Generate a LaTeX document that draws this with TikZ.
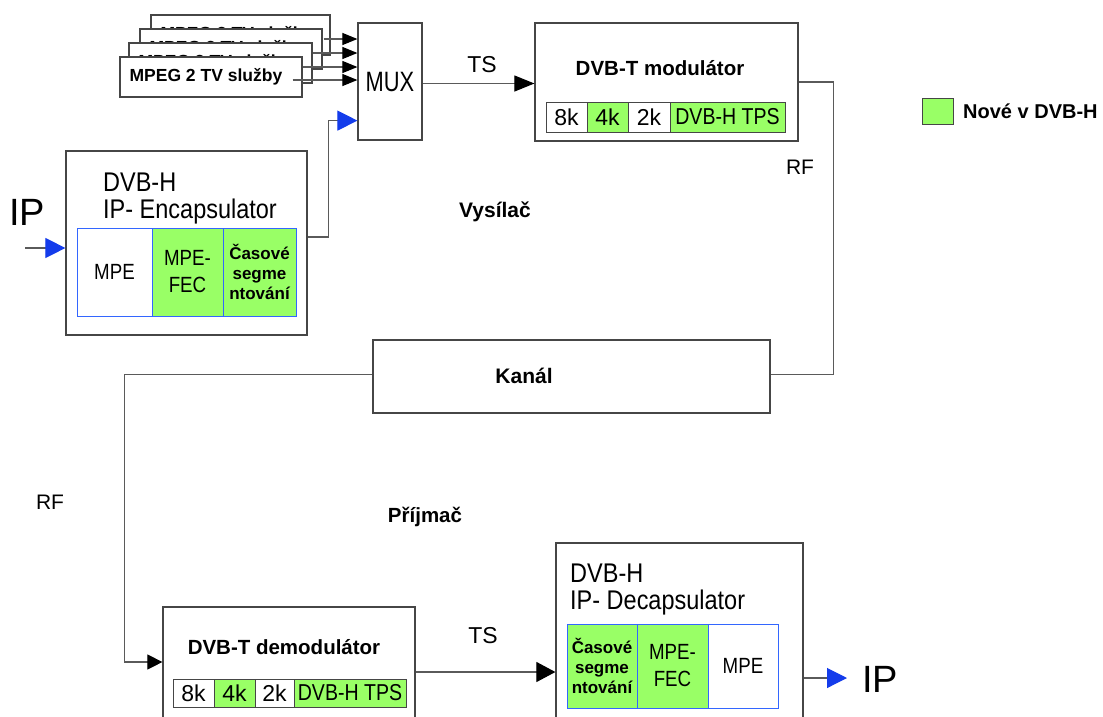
\documentclass[tikz,border=0pt]{standalone}
\usepackage{fontspec}
\setmainfont{Liberation Sans}
\usetikzlibrary{arrows.meta,calc}
\definecolor{newgreen}{RGB}{153,255,102}
\definecolor{cellblue}{RGB}{51,102,255}
\definecolor{tipblue}{RGB}{20,60,235}
\definecolor{boxgray}{RGB}{70,70,70}
\definecolor{linegray}{RGB}{90,90,90}
\newcommand\hsq[2][0.87]{\scalebox{#1}[1]{#2}}
\newcommand\fs[2]{\fontsize{#1}{#2}\selectfont}
\begin{document}
\begin{tikzpicture}[x=1pt,y=-1pt,
  box/.style={draw=boxgray,fill=white,line width=1.2pt,inner sep=0pt},
  cellb/.style={draw=cellblue,line width=1pt,inner sep=0pt,align=center},
  cellg/.style={draw=boxgray,line width=1pt,inner sep=0pt,align=center},
  conn/.style={draw=linegray,line width=1.1pt},
  blk/.style={conn,-{Triangle[length=15pt,width=12pt,color=black]}},
  blkbig/.style={conn,-{Triangle[length=19pt,width=17pt,color=black]}},
  blu/.style={conn,-{Triangle[length=20pt,width=20pt,color=tipblue]}},
  lbl/.style={inner sep=0pt},
]
\useasboundingbox (0,0) rectangle (1103,716);
\fill[white] (0,0) rectangle (1103,716);

% stacked MPEG boxes
\node[box,minimum width=179,minimum height=40] (b1) at (240.5,35) {};
\node[lbl,anchor=west,font=\fs{17.5}{20}\bfseries] (t1) at ($(b1.west)+(10,0)$) {MPEG 2 TV služby};
\node[box,minimum width=182,minimum height=40] (b2) at (231,49) {};
\node[lbl,anchor=west,font=\fs{17.5}{20}\bfseries] (t2) at ($(b2.west)+(10,0)$) {MPEG 2 TV služby};
\node[box,minimum width=183,minimum height=40] (b3) at (220.5,63) {};
\node[lbl,anchor=west,font=\fs{17.5}{20}\bfseries] (t3) at ($(b3.west)+(10,0)$) {MPEG 2 TV služby};
\node[box,minimum width=182,minimum height=40] (b4) at (211,77) {};
\node[lbl,anchor=west,font=\fs{17.5}{20}\bfseries] (t4) at ($(b4.west)+(10,0)$) {MPEG 2 TV služby};

% MUX
\node[box,minimum width=64,minimum height=117,font=\fs{28}{30}] (mux) at (390,81.5) {\hsq[0.78]{MUX}};

\draw[blk] ($(b1.east)+(-7,4)$) -- ($(mux.west |- b1.east)+(0,4)$);
\draw[blk] ($(b2.east)+(-10,4)$) -- ($(mux.west |- b2.east)+(0,4)$);
\draw[blk] ($(b3.east)+(-10,4)$) -- ($(mux.west |- b3.east)+(0,4)$);
\draw[blk] ($(b4.east)+(-10,3)$) -- ($(mux.west |- b4.east)+(0,3)$);

% Encapsulator
\node[box,minimum width=241,minimum height=184] (enc) at (186.5,243) {};
\node[lbl,anchor=west,font=\fs{27}{30}] (enct1) at (103,182) {\hsq{DVB-H}};
\node[lbl,anchor=west,font=\fs{27}{30}] (enct2) at (103,212) {\hsq{IP- Encapsulator}};
\node[cellb,minimum width=75,minimum height=88,font=\fs{22}{27}] (encmpe) at (114.5,272) {\hsq[0.85]{MPE}};
\node[cellb,fill=newgreen,minimum width=71,minimum height=88,font=\fs{22}{27}] (encfec) at (187.5,272) {\hsq[0.85]{MPE-}\\\hsq[0.85]{FEC}};
\node[cellb,fill=newgreen,minimum width=73,minimum height=88,font=\fs{17}{20}\bfseries] (enccas) at (259.5,272) {Časové\\segme\\ntování};

\node[lbl,font=\fs{38}{40}] (ipin) at (27,212) {IP};
\coordinate (ipstart) at (25,248);
\draw[blu] (ipstart) -- (ipstart -| enc.west);

\draw[blu] ($(enc.east)+(0,-6)$) -- ++(21,0) |- ($(mux.south west)+(0,-20)$);

% Modulator
\node[box,minimum width=263,minimum height=118] (mod) at (666.5,82) {};
\node[lbl,font=\fs{20.5}{24}\bfseries] (modt) at (660,68) {DVB-T modulátor};
\node[cellg,minimum width=41,minimum height=30,font=\fs{23}{25}] (m8) at (566.5,117) {8k};
\node[cellg,fill=newgreen,minimum width=41,minimum height=30,font=\fs{23}{25}] (m4) at (607.5,117) {4k};
\node[cellg,minimum width=42,minimum height=30,font=\fs{23}{25}] (m2) at (649,117) {2k};
\node[cellg,fill=newgreen,minimum width=115,minimum height=30,font=\fs{23}{25}] (mtps) at (727.5,117) {\hsq[0.85]{DVB-H TPS}};

\draw[conn,-{Triangle[length=20pt,width=16pt,color=black]}] ($(mux.east)+(0,2)$) -- ($(mux.east -| mod.west)+(0,2)$);
\node[lbl,font=\fs{23}{25}] (ts1) at (482,65) {TS};

% Legend
\node[draw=boxgray,fill=newgreen,line width=1pt,minimum width=31,minimum height=26,inner sep=0pt] (leg) at (937.5,111) {};
\node[lbl,anchor=west,font=\fs{20}{24}\bfseries] (legt) at (963,111) {Nové v DVB-H};

% labels
\node[lbl,font=\fs{21}{24}] (rf1) at (800,167) {RF};
\node[lbl,font=\fs{21}{24}\bfseries] (vys) at (495,212) {Vysílač};
\node[lbl,font=\fs{21}{24}] (rf2) at (50,502) {RF};
\node[lbl,font=\fs{20.5}{24}\bfseries] (prij) at (425,517) {Příjmač};

% Channel
\node[box,minimum width=397,minimum height=73,font=\fs{21}{24}\bfseries] (kanal) at (571.5,376.5) {};
\node[lbl,font=\fs{21}{24}\bfseries] (kanalt) at (524,376) {Kanál};
\draw[conn] (mod.east) -- ++(35,0) |- ($(kanal.east)+(0,-2)$);

% Demodulator
\node[box,minimum width=252,minimum height=118] (demod) at (289,666) {};
\node[lbl,font=\fs{20.5}{24}\bfseries] (demodt) at (284,647) {DVB-T demodulátor};
\node[cellg,minimum width=41,minimum height=28,font=\fs{23}{25}] (d8) at (193.5,693) {8k};
\node[cellg,fill=newgreen,minimum width=41,minimum height=28,font=\fs{23}{25}] (d4) at (234.5,693) {4k};
\node[cellg,minimum width=39,minimum height=28,font=\fs{23}{25}] (d2) at (274.5,693) {2k};
\node[cellg,fill=newgreen,minimum width=112,minimum height=28,font=\fs{23}{25}] (dtps) at (350,693) {\hsq[0.85]{DVB-H TPS}};

\draw[conn,-{Triangle[length=15pt,width=15pt,color=black]}] ($(kanal.west)+(0,-2)$) -- ++(-248,0) |- ($(demod.west)+(0,-4)$);

% Decapsulator
\node[box,minimum width=247,minimum height=187] (decap) at (679.5,636.5) {};
\node[lbl,anchor=west,font=\fs{27}{30}] (dect1) at (570,573) {\hsq{DVB-H}};
\node[lbl,anchor=west,font=\fs{27}{30}] (dect2) at (570,603) {\hsq{IP- Decapsulator}};
\node[cellb,fill=newgreen,minimum width=70,minimum height=84,font=\fs{17}{20}\bfseries] (deccas) at (602,666) {Časové\\segme\\ntování};
\node[cellb,fill=newgreen,minimum width=71,minimum height=84,font=\fs{22}{27}] (decfec) at (672.5,666) {\hsq[0.85]{MPE-}\\\hsq[0.85]{FEC}};
\node[cellb,minimum width=70,minimum height=84,font=\fs{22}{27}] (decmpe) at (743,666) {\hsq[0.85]{MPE}};

\draw[conn,-{Triangle[length=19pt,width=20pt,color=black]}] ($(demod.east)+(0,6)$) -- ($(demod.east -| decap.west)+(0,6)$);
\node[lbl,font=\fs{23}{25}] (ts2) at (483,636) {TS};

\coordinate (ipend) at (847,678);
\draw[blu] (decap.east |- ipend) -- (ipend);
\node[lbl,font=\fs{38}{40}] (ipout) at (880,679) {IP};
\end{tikzpicture}
\end{document}
